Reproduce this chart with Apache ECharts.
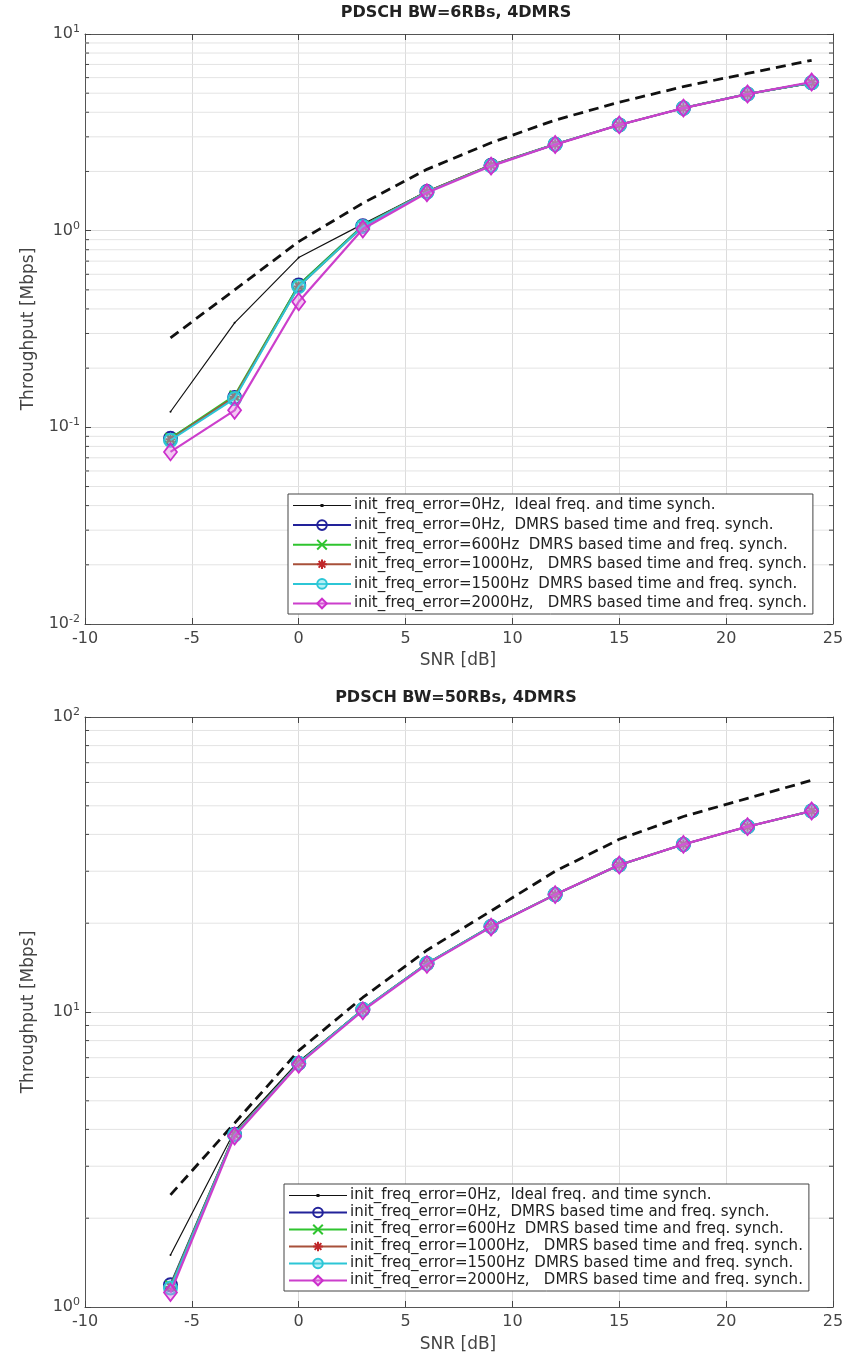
<!DOCTYPE html>
<html>
<head>
<meta charset="utf-8">
<script src="https://cdn.jsdelivr.net/npm/echarts@6/dist/echarts.min.js"></script>
<style>
  html, body { margin: 0; padding: 0; background: #fff; }
  #chart { width: 847px; height: 1358px; }
</style>
</head>
<body>
<div id="chart"></div>
<script>
// SNR points (dB)
const snr = [-6, -3, 0, 3, 6, 9, 12, 15, 18, 21, 24];

// PDSCH BW=6RBs, 4DMRS  (throughput, Mbps)
const dash6   = [0.285, 0.50, 0.88, 1.38, 2.05, 2.8, 3.65, 4.5, 5.4, 6.3, 7.35];
const ideal6  = [0.12, 0.34, 0.73, 1.08, 1.58, 2.15, 2.75, 3.45, 4.2, 4.95, 5.6];
const hz0_6   = [0.088, 0.142, 0.53, 1.06, 1.58, 2.15, 2.75, 3.45, 4.2, 4.95, 5.65];
const hz600_6 = [0.088, 0.145, 0.53, 1.06, 1.58, 2.15, 2.75, 3.45, 4.2, 4.95, 5.65];
const hz1000_6 = [0.087, 0.143, 0.52, 1.05, 1.58, 2.15, 2.75, 3.45, 4.2, 4.95, 5.65];
const hz1500_6 = [0.086, 0.14, 0.52, 1.05, 1.57, 2.14, 2.75, 3.45, 4.2, 4.95, 5.65];
const hz2000_6 = [0.075, 0.122, 0.435, 1.02, 1.56, 2.13, 2.74, 3.45, 4.2, 4.95, 5.7];

// PDSCH BW=50RBs, 4DMRS
const dash50   = [2.4, 4.2, 7.4, 11.2, 16.2, 22, 30, 38.5, 46, 53, 61];
const ideal50  = [1.5, 3.95, 6.8, 10.2, 14.6, 19.5, 25, 31.5, 37, 42.5, 48];
const hz0_50   = [1.19, 3.85, 6.7, 10.2, 14.6, 19.5, 25, 31.5, 37, 42.5, 48];
const hz600_50 = [1.18, 3.85, 6.7, 10.2, 14.6, 19.5, 25, 31.5, 37, 42.5, 48];
const hz1000_50 = [1.17, 3.84, 6.7, 10.2, 14.6, 19.5, 25, 31.5, 37, 42.5, 48];
const hz1500_50 = [1.16, 3.83, 6.7, 10.2, 14.6, 19.5, 25, 31.5, 37, 42.5, 48];
const hz2000_50 = [1.12, 3.8, 6.65, 10.1, 14.5, 19.4, 25, 31.5, 37, 42.5, 48];

const legendNames = [
  "init_freq_error=0Hz,  Ideal freq. and time synch.",
  "init_freq_error=0Hz,  DMRS based time and freq. synch.",
  "init_freq_error=600Hz  DMRS based time and freq. synch.",
  "init_freq_error=1000Hz,   DMRS based time and freq. synch.",
  "init_freq_error=1500Hz  DMRS based time and freq. synch.",
  "init_freq_error=2000Hz,   DMRS based time and freq. synch."
];

// minor log grid values (2..9 per decade)
function minorValues(decades) {
  let out = [];
  decades.forEach(d => { for (let m = 2; m <= 9; m++) out.push(+(m * d).toPrecision(3)); });
  return out;
}
const minor6 = minorValues([0.01, 0.1, 1]);
const minor50 = minorValues([1, 10]);

const FONT = "DejaVu Sans";
const pair = vals => snr.map((s, i) => [s, vals[i]]);

const crossPath = "path://M0,0L10,10M10,0L0,10";
const starPath = "path://M5,0L5,10M0,5L10,5M1.5,1.5L8.5,8.5M8.5,1.5L1.5,8.5";

function curves(gi, d) {
  const ax = { xAxisIndex: gi * 2, yAxisIndex: gi * 2 };
  return [
    Object.assign({ name: "bound", type: "line", data: pair(d[0]), showSymbol: false, z: 3,
      lineStyle: { color: "#111", width: 2.8, type: [10, 6] } }, ax),
    Object.assign({ name: legendNames[0], type: "line", data: pair(d[1]), symbol: "circle", symbolSize: 2, z: 4,
      itemStyle: { color: "#111" }, lineStyle: { color: "#111", width: 1.2 } }, ax),
    Object.assign({ name: legendNames[1], type: "line", data: pair(d[2]), symbol: "circle", symbolSize: 13, z: 5,
      itemStyle: { color: "transparent", borderColor: "#22229a", borderWidth: 2 },
      lineStyle: { color: "#22229a", width: 2 } }, ax),
    Object.assign({ name: legendNames[2], type: "line", data: pair(d[3]), symbol: crossPath, symbolSize: 10, z: 6,
      itemStyle: { color: "#2fc42f", borderColor: "#2fc42f", borderWidth: 2 },
      lineStyle: { color: "#2fc42f", width: 2 } }, ax),
    Object.assign({ name: legendNames[3], type: "line", data: pair(d[4]), symbol: starPath, symbolSize: 10, z: 7,
      itemStyle: { color: "#c0282a", borderColor: "#c0282a", borderWidth: 2 },
      lineStyle: { color: "#a8503a", width: 2 } }, ax),
    Object.assign({ name: legendNames[4], type: "line", data: pair(d[5]), symbol: "circle", symbolSize: 13, z: 8,
      itemStyle: { color: "rgba(90,220,235,0.45)", borderColor: "#2cc6d6", borderWidth: 2 },
      lineStyle: { color: "#2cc6d6", width: 2 } }, ax),
    Object.assign({ name: legendNames[5], type: "line", data: pair(d[6]), symbol: "diamond", symbolSize: [13, 17], z: 9,
      itemStyle: { color: "rgba(225,120,225,0.4)", borderColor: "#cc2fcc", borderWidth: 1.8 },
      lineStyle: { color: "#cc3fcc", width: 2.2 } }, ax)
  ];
}

function minorSeries(gi, vals) {
  return {
    type: "custom", xAxisIndex: gi * 2, yAxisIndex: gi * 2, silent: true, z: 1,
    data: vals.map(v => [-10, v]),
    renderItem: (params, api) => {
      const v = api.value(1);
      const a = api.coord([-10, v]);
      const b = api.coord([25, v]);
      return {
        type: "group",
        children: [
          { type: "line", shape: { x1: a[0], y1: a[1], x2: b[0], y2: b[1] }, style: { stroke: "#e4e4e4", lineWidth: 1 } },
          { type: "line", shape: { x1: a[0], y1: a[1], x2: a[0] + 4, y2: a[1] }, style: { stroke: "#444", lineWidth: 1 } },
          { type: "line", shape: { x1: b[0] - 4, y1: b[1], x2: b[0], y2: b[1] }, style: { stroke: "#444", lineWidth: 1 } }
        ]
      };
    }
  };
}

const logLabel = {
  color: "#444",
  margin: 5,
  formatter: v => "{b|10}{e|" + Math.round(Math.log10(v)) + "}",
  rich: {
    b: { fontSize: 16, fontFamily: FONT, color: "#444" },
    e: { fontSize: 11, fontFamily: FONT, color: "#444", padding: [0, 0, 10, 0] }
  }
};
const axisLineStyle = { onZero: false, lineStyle: { color: "#555", width: 1 } };

function xAxes(gi) {
  return [
    { type: "value", gridIndex: gi, min: -10, max: 25, interval: 5, position: "bottom",
      axisLine: axisLineStyle, axisTick: { inside: true, length: 6, lineStyle: { color: "#444" } },
      axisLabel: { color: "#444", fontSize: 16, fontFamily: FONT, margin: 7 },
      splitLine: { show: true, lineStyle: { color: "#dcdcdc" } } },
    { type: "value", gridIndex: gi, min: -10, max: 25, interval: 5, position: "top",
      axisLine: axisLineStyle, axisTick: { inside: true, length: 6, lineStyle: { color: "#444" } },
      axisLabel: { show: false }, splitLine: { show: false } }
  ];
}
function yAxes(gi, min, max) {
  return [
    { type: "log", logBase: 10, gridIndex: gi, min: min, max: max, position: "left",
      name: "Throughput [Mbps]", nameLocation: "middle", nameGap: 48, nameRotate: 90,
      nameTextStyle: { color: "#444", fontSize: 17, fontFamily: FONT },
      axisLine: axisLineStyle, axisTick: { inside: true, length: 6, lineStyle: { color: "#444" } },
      axisLabel: logLabel, splitLine: { show: true, lineStyle: { color: "#dcdcdc" } } },
    { type: "log", logBase: 10, gridIndex: gi, min: min, max: max, position: "right",
      axisLine: axisLineStyle, axisTick: { inside: true, length: 6, lineStyle: { color: "#444" } },
      axisLabel: { show: false }, splitLine: { show: false } }
  ];
}

const idealIcon = "path://M0,5.4H58V6.6H0Z M27.5,4.5H30.5V7.5H27.5Z";

function legendBox(top, left, gap, size) {
  return {
    data: legendNames.map((n, i) => i === 0 ? { name: n, icon: idealIcon } : n),
    orient: "vertical", left: left, top: top,
    itemWidth: 58, itemHeight: 12, itemGap: gap,
    backgroundColor: "#fff", borderColor: "#444", borderWidth: 1, padding: [4, 6, 3, 4],
    selectedMode: false,
    textStyle: { color: "#222", fontSize: size, fontFamily: FONT, padding: [0, 0, 0, -2] }
  };
}

const chart = echarts.init(document.getElementById("chart"));
chart.setOption({
  animation: false,
  backgroundColor: "#fff",
  grid: [
    { left: 85, top: 34, width: 748, height: 590 },
    { left: 85, top: 717, width: 748, height: 590 }
  ],
  xAxis: xAxes(0).concat(xAxes(1)),
  yAxis: yAxes(0, 0.01, 10).concat(yAxes(1, 1, 100)),
  legend: [legendBox(494, 288, 4.6, 15), legendBox(1184, 284, 2, 15)],
  graphic: [
    { type: "text", x: 456, y: 13, style: { text: "PDSCH BW=6RBs, 4DMRS", textAlign: "center", textVerticalAlign: "middle", font: "bold 16px " + FONT, fill: "#222" } },
    { type: "text", x: 456, y: 698, style: { text: "PDSCH BW=50RBs, 4DMRS", textAlign: "center", textVerticalAlign: "middle", font: "bold 16px " + FONT, fill: "#222" } },
    { type: "text", x: 458, y: 652, style: { text: "SNR [dB]", textAlign: "center", textVerticalAlign: "top", font: "17px " + FONT, fill: "#444" } },
    { type: "text", x: 458, y: 1345, style: { text: "SNR [dB]", textAlign: "center", textVerticalAlign: "middle", font: "17px " + FONT, fill: "#444" } }
  ],
  series: [minorSeries(0, minor6), minorSeries(1, minor50)]
    .concat(curves(0, [dash6, ideal6, hz0_6, hz600_6, hz1000_6, hz1500_6, hz2000_6]))
    .concat(curves(1, [dash50, ideal50, hz0_50, hz600_50, hz1000_50, hz1500_50, hz2000_50]))
});
</script>
</body>
</html>
